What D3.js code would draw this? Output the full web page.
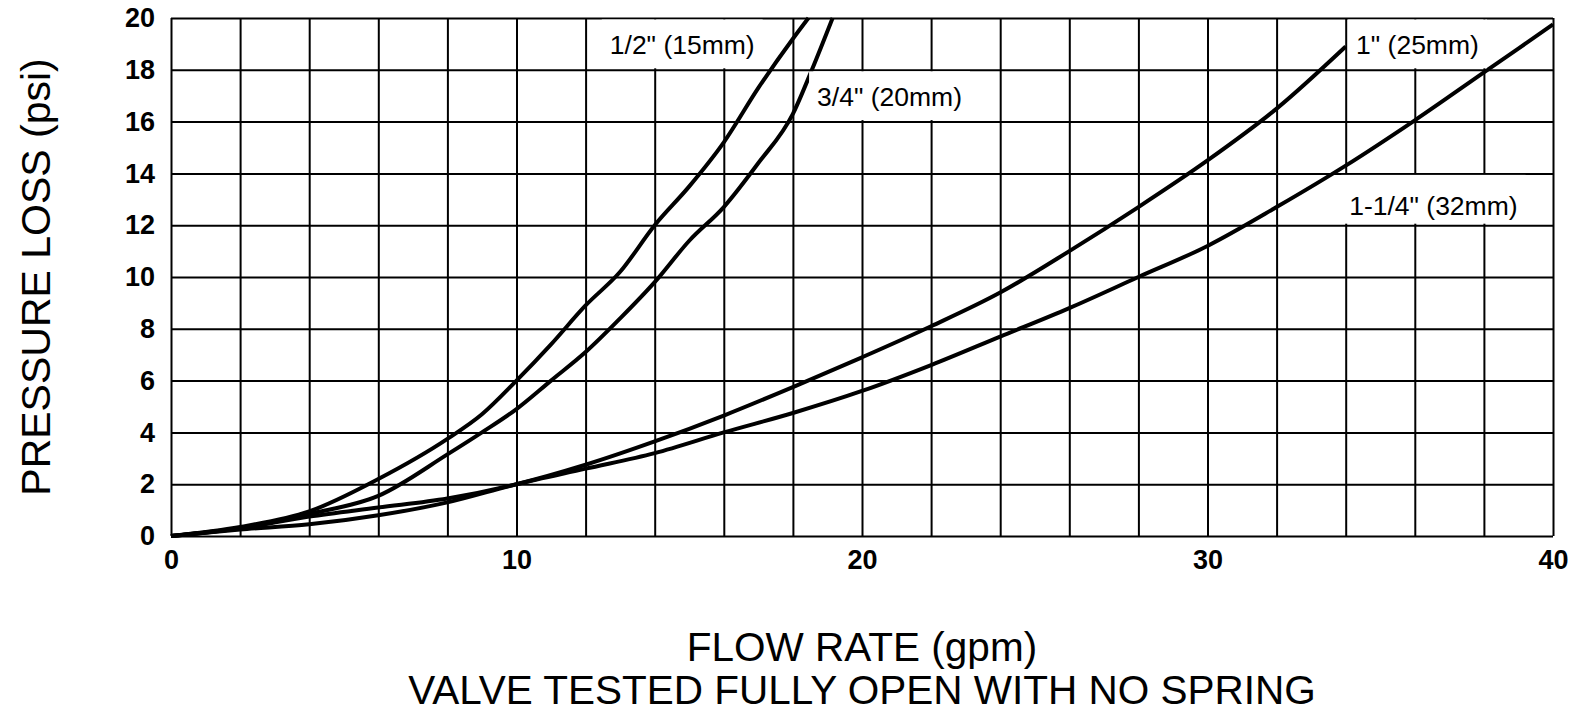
<!DOCTYPE html>
<html>
<head>
<meta charset="utf-8">
<script src="https://cdn.jsdelivr.net/npm/d3@7"></script>
<style>
  body { margin: 0; background: #fff; }
  text { font-family: Arial, "Liberation Sans", sans-serif; fill: #000; }
</style>
</head>
<body>
<script>
// flow (gpm) and pressure loss (psi), one pair per valve size
var flowHalf = [0, 2, 4, 6, 8, 9, 10, 11, 12, 13, 14, 15, 16, 17, 18, 18.45];
var lossHalf = [0, 0.35, 0.95, 2.2, 3.75, 4.7, 6.0, 7.4, 8.9, 10.2, 12.0, 13.5, 15.2, 17.3, 19.2, 20];

var flowThreeQ = [0, 2, 4, 6, 8, 9, 10, 11, 12, 13, 14, 15, 16, 17, 18, 18.55, 19.15];
var lossThreeQ = [0, 0.3, 0.85, 1.55, 3.15, 4.0, 4.9, 6.0, 7.1, 8.4, 9.8, 11.4, 12.7, 14.4, 16.3, 18, 20];

var flowOne = [0, 2, 4, 6, 8, 10, 12, 14, 16, 18, 20, 22, 24, 26, 28, 30, 32, 34];
var lossOne = [0, 0.3, 0.75, 1.1, 1.45, 2.0, 2.75, 3.65, 4.65, 5.75, 6.9, 8.1, 9.4, 11.0, 12.7, 14.5, 16.5, 18.9];

var flowOneQ = [0, 2, 4, 6, 8, 10, 12, 14, 16, 18, 20, 22, 24, 26, 28, 30, 32, 34, 36, 38, 40];
var lossOneQ = [0, 0.25, 0.45, 0.8, 1.3, 2.0, 2.6, 3.2, 4.0, 4.75, 5.6, 6.6, 7.7, 8.8, 10.0, 11.2, 12.7, 14.3, 16.05, 17.9, 19.75];

var seriesNames = ['1/2" (15mm)', '3/4" (20mm)', '1" (25mm)', '1-1/4" (32mm)'];

var xTicks = [0, 10, 20, 30, 40];
var yTicks = [0, 2, 4, 6, 8, 10, 12, 14, 16, 18, 20];

var margin = {top: 18, right: 26, bottom: 178, left: 171};
var width = 1579 - margin.left - margin.right;
var height = 714 - margin.top - margin.bottom;

var svg = d3.select("body")
  .append("svg")
    .attr("width", 1579)
    .attr("height", 714);

var g = svg.append("g")
    .attr("transform", "translate(" + margin.left + "," + margin.top + ")");

var x = d3.scaleLinear().domain([0, 40]).range([0, width]);
var y = d3.scaleLinear().domain([0, 20]).range([height, 0]);

// grid + tick labels
var xAxis = d3.axisBottom(x)
  .tickValues(d3.range(0, 41, 2))
  .tickSize(-height)
  .tickPadding(14)
  .tickFormat(function(d) { return xTicks.indexOf(d) >= 0 ? d : ""; });

g.append("g")
  .attr("class", "x axis")
  .attr("transform", "translate(0," + height + ")")
  .call(xAxis);

var yAxis = d3.axisLeft(y)
  .tickValues(yTicks)
  .tickSize(-width)
  .tickPadding(16);

g.append("g")
  .attr("class", "y axis")
  .call(yAxis);

g.selectAll(".axis .domain").remove();
g.selectAll(".axis line")
  .attr("stroke", "#000")
  .attr("stroke-width", 2);
g.selectAll(".axis text")
  .attr("font-size", "27px")
  .attr("font-weight", "bold")
  .style("font-family", "Arial, 'Liberation Sans', sans-serif");

// series labels, each sitting on a white patch inside one grid row
var labels = [
  {name: seriesNames[0], gx: 12.7, gy: 18.6, rowLo: 18, rowHi: 20},
  {name: seriesNames[1], gx: 18.7, gy: 16.6, rowLo: 16, rowHi: 18},
  {name: seriesNames[2], gx: 34.3, gy: 18.6, rowLo: 18, rowHi: 20},
  {name: seriesNames[3], gx: 34.1, gy: 12.4, rowLo: 12, rowHi: 14}
];

var labelG = g.append("g").attr("class", "labels");
labels.forEach(function(l) {
  var patch = labelG.append("rect").attr("fill", "#fff");
  var t = labelG.append("text")
    .attr("x", x(l.gx))
    .attr("y", y(l.gy))
    .attr("font-size", "26.5px")
    .text(l.name);
  var bb = t.node().getBBox();
  patch
    .attr("x", bb.x - 8)
    .attr("width", bb.width + 16)
    .attr("y", y(l.rowHi) + 1.5)
    .attr("height", y(l.rowLo) - y(l.rowHi) - 3);
  l.textNode = t;
});

// curves
var series = [
  {flow: flowHalf, loss: lossHalf},
  {flow: flowThreeQ, loss: lossThreeQ},
  {flow: flowOne, loss: lossOne},
  {flow: flowOneQ, loss: lossOneQ}
];

var line = d3.line()
  .x(function(d) { return x(d[0]); })
  .y(function(d) { return y(d[1]); })
  .curve(d3.curveMonotoneX);

g.selectAll(".curve")
  .data(series)
  .enter()
  .append("path")
    .attr("class", "curve")
    .attr("fill", "none")
    .attr("stroke", "#000")
    .attr("stroke-width", 4)
    .attr("stroke-linejoin", "round")
    .attr("d", function(s) { return line(d3.zip(s.flow, s.loss)); });

// keep label text above the curves
labels.forEach(function(l) { labelG.node().appendChild(l.textNode.node()); });
labelG.raise();

// axis titles
svg.append("text")
  .attr("x", margin.left + width / 2)
  .attr("y", 661)
  .attr("text-anchor", "middle")
  .attr("font-size", "40.5px")
  .text("FLOW RATE (gpm)");

svg.append("text")
  .attr("x", margin.left + width / 2)
  .attr("y", 704)
  .attr("text-anchor", "middle")
  .attr("font-size", "40.5px")
  .text("VALVE TESTED FULLY OPEN WITH NO SPRING");

svg.append("text")
  .attr("transform", "rotate(-90)")
  .attr("x", -(margin.top + height / 2))
  .attr("y", 50)
  .attr("text-anchor", "middle")
  .attr("font-size", "41px")
  .text("PRESSURE LOSS (psi)");
</script>
</body>
</html>
